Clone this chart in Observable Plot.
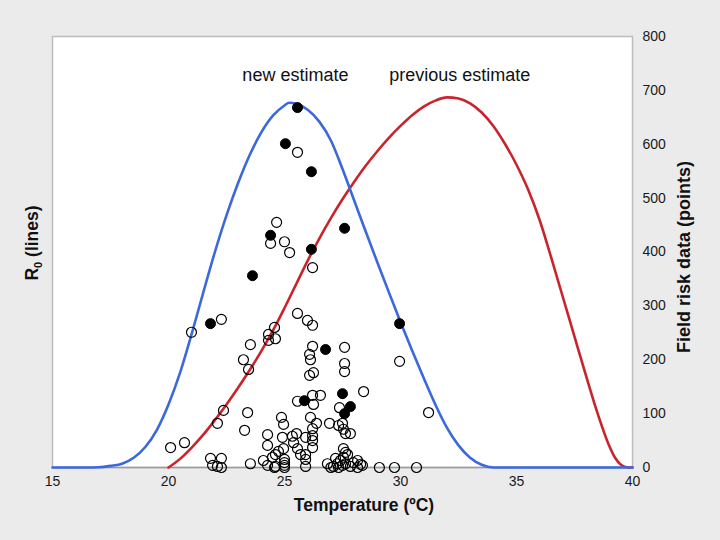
<!DOCTYPE html>
<html>
<head>
<meta charset="utf-8">
<script src="https://cdn.jsdelivr.net/npm/d3@7"></script>
<script src="https://cdn.jsdelivr.net/npm/@observablehq/plot@0.6"></script>
<style>
  html, body { margin: 0; padding: 0; background: #ebebeb; }
  #chart { width: 720px; height: 540px; }
</style>
</head>
<body>
<div id="chart"></div>
<script>
// ---- Data ----
const xTicks = [15, 20, 25, 30, 35, 40];
const yTicks = [0, 100, 200, 300, 400, 500, 600, 700, 800];

// New estimate R0 curve (blue), scaled to the right axis
const newTemp = [15, 16, 16.5, 17, 17.5, 18, 18.5, 19, 19.5, 20, 20.5, 21, 21.5, 22, 22.5, 23, 23.5, 24, 24.5, 25, 25.2, 25.5, 26, 26.5, 27, 27.5, 28, 28.5, 29, 29.5, 30, 30.5, 31, 31.5, 32, 32.5, 33, 33.5, 34, 35, 40];
const newR0   = [0, 0, 0, 0.5, 3, 7, 18, 38, 70, 117, 176, 248, 325, 400, 468, 528, 580, 622, 653, 672, 677, 675, 664, 642, 607, 554, 496, 438, 381, 325, 270, 217, 166, 117, 74, 41, 18, 5, 0, 0, 0];

// Previous estimate R0 curve (red)
const prevTemp = [20, 20.5, 21, 21.5, 22, 22.5, 23, 23.5, 24, 24.5, 25, 25.5, 26, 26.5, 27, 27.5, 28, 28.5, 29, 29.5, 30, 30.5, 31, 31.5, 32, 32.5, 33, 33.5, 34, 34.5, 35, 35.5, 36, 36.5, 37, 37.5, 38, 38.5, 39, 39.25, 39.5, 39.75, 40];
const prevR0   = [0, 16, 37, 61, 88, 117, 148, 181, 216, 254, 296, 340, 384, 425, 463, 498, 530, 560, 587, 612, 634, 654, 670, 681, 687, 685, 676, 659, 634, 601, 562, 516, 459, 389, 316, 243, 170, 100, 40, 18, 5, 0.5, 0];

// Field risk data, open circles
const openTemp = [25.56, 24.66, 24.40, 25.00, 25.22, 26.21, 20.99, 22.28, 25.56, 24.57, 24.31, 24.31, 24.61, 23.53, 23.23, 23.45, 22.37, 23.41, 22.11, 23.28,
  20.09, 20.69, 21.81, 22.28, 21.90, 22.11, 22.28, 23.53, 25.99, 26.21, 26.21, 26.08, 26.12, 26.25, 26.08, 27.59, 27.59, 27.59, 28.41, 29.96,
  31.21, 26.21, 26.55, 25.56, 26.25, 27.37, 24.87, 24.96, 26.12, 26.38, 26.21, 26.94, 27.33, 27.50, 27.54, 27.84, 27.63, 24.27, 24.27, 24.91,
  25.34, 25.52, 25.39, 25.56, 25.91, 26.21, 26.21, 26.21, 25.69, 25.91, 25.91, 25.91, 24.74, 24.96, 24.61, 24.48, 24.09, 24.27, 24.61, 25.00,
  25.00, 25.00, 25.00, 26.85, 27.20, 27.28, 27.54, 27.63, 27.72, 27.54, 27.11, 27.63, 27.84, 28.15, 28.28, 29.09, 29.74, 30.69, 27.41, 27.33,
  27.97, 28.36, 28.15, 24.57, 27.50, 27.00];
const openRisk = [585, 455, 416, 419, 399, 371, 251, 275, 286, 260, 247, 236, 239, 228, 200, 182, 106, 102, 82, 69,
  37, 46, 17, 17, 4, 2, 0, 7, 273, 264, 225, 210, 200, 176, 171, 223, 193, 178, 141, 197,
  102, 134, 134, 123, 117, 111, 93, 80, 93, 82, 72, 82, 78, 82, 71, 63, 63, 61, 41, 56,
  58, 63, 46, 35, 56, 59, 50, 37, 24, 24, 15, 2, 30, 35, 24, 19, 13, 4, 2, 9,
  4, 0, 15, 7, 17, 7, 35, 28, 24, 19, 2, 7, 2, 13, 6, 0, 0, 0, 13, 0,
  9, 4, 0, 0, 4, 0];

// Field risk data, filled circles
const filledTemp = [25.56, 25.04, 26.16, 24.40, 26.16, 27.59, 23.62, 21.81, 29.96, 26.77, 25.86, 27.50, 27.84, 27.59];
const filledRisk = [668, 601, 549, 431, 405, 444, 356, 267, 267, 219, 124, 137, 113, 100];

// Annotations
const noteText = ["new estimate", "previous estimate"];
const noteTemp = [25.47, 32.55];
const noteRisk = [729, 729];

// ---- Build tables ----
const newCurve = newTemp.map((t, i) => ({t, v: newR0[i]}));
const prevCurve = prevTemp.map((t, i) => ({t, v: prevR0[i]}));
const openPts = openTemp.map((t, i) => ({t, v: openRisk[i]}));
const filledPts = filledTemp.map((t, i) => ({t, v: filledRisk[i]}));
const notes = noteText.map((text, i) => ({text, t: noteTemp[i], v: noteRisk[i]}));

const FONT = "'Liberation Sans', Arial, Helvetica, sans-serif";

const chart = Plot.plot({
  width: 720,
  height: 540,
  marginLeft: 52,
  marginRight: 88,
  marginTop: 36,
  marginBottom: 73,
  style: {background: "#ebebeb", fontFamily: FONT, fontSize: "14px", color: "#1a1a1a", overflow: "visible"},
  x: {domain: [15, 40], label: null},
  y: {domain: [0, 800], label: null},
  marks: [
    Plot.frame({fill: "white", stroke: "#bdbdbd", strokeWidth: 1.5}),
    Plot.axisX({ticks: xTicks, tickSize: 0, tickPadding: 9, label: null, fontSize: 14}),
    Plot.axisY({anchor: "right", ticks: yTicks, tickSize: 0, tickPadding: 10, label: null, fontSize: 14}),
    Plot.ruleY([0], {stroke: "#9a9a9a", strokeWidth: 1.5}),
    Plot.line(prevCurve, {x: "t", y: "v", stroke: "#c9242c", strokeWidth: 2.6, curve: "monotone-x"}),
    Plot.line(newCurve, {x: "t", y: "v", stroke: "#3b69dc", strokeWidth: 2.6, curve: "monotone-x"}),
    Plot.dot(openPts, {x: "t", y: "v", r: 5, stroke: "black", fill: "none", strokeWidth: 1.2}),
    Plot.dot(filledPts, {x: "t", y: "v", r: 5, stroke: "black", fill: "black", strokeWidth: 1}),
    Plot.text(notes, {x: "t", y: "v", text: "text", fontSize: 18, fill: "#111", textAnchor: "middle"})
  ]
});

document.getElementById("chart").appendChild(chart);

// ---- Axis titles ----
const svg = d3.select(chart);
svg.append("text")
  .attr("x", 364).attr("y", 511)
  .attr("text-anchor", "middle")
  .attr("font-family", FONT).attr("font-size", 17.5).attr("font-weight", "bold").attr("fill", "#111")
  .text("Temperature (ºC)");

const left = svg.append("text")
  .attr("transform", "translate(38,243) rotate(-90)")
  .attr("text-anchor", "middle")
  .attr("font-family", FONT).attr("font-size", 17.5).attr("font-weight", "bold").attr("fill", "#111");
left.append("tspan").text("R");
left.append("tspan").attr("font-size", 11).attr("dy", 4).text("0");
left.append("tspan").attr("dy", -4).text(" (lines)");

svg.append("text")
  .attr("transform", "translate(690,257) rotate(-90)")
  .attr("text-anchor", "middle")
  .attr("font-family", FONT).attr("font-size", 18).attr("font-weight", "bold").attr("fill", "#111")
  .text("Field risk data (points)");
</script>
</body>
</html>
